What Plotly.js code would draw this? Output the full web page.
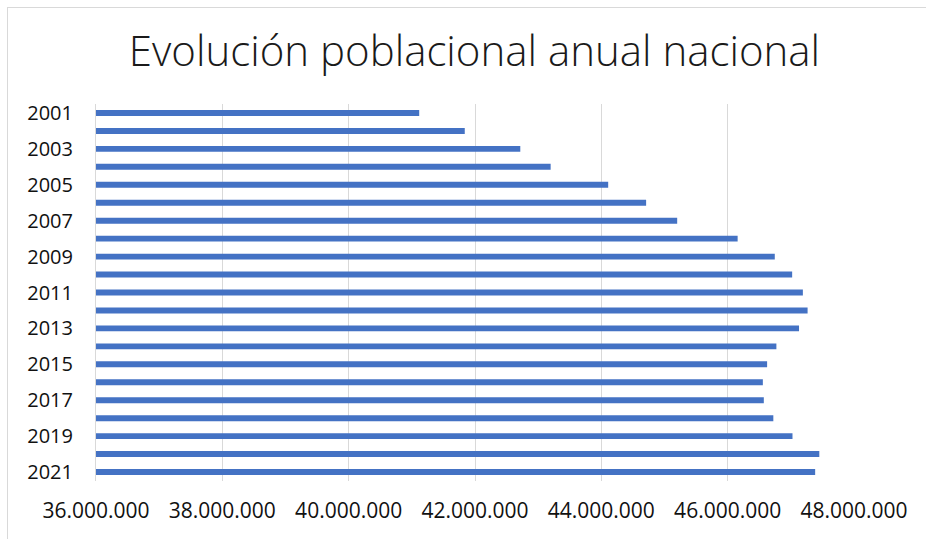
<!DOCTYPE html>
<html>
<head>
<meta charset="utf-8">
<script src="https://cdn.plot.ly/plotly-3.0.1.min.js"></script>
<style>
html,body{margin:0;padding:0;background:#fff;overflow:hidden;}
#wrap{position:relative;width:926px;height:539px;}
#chart{position:absolute;left:0;top:0;width:926px;height:539px;}
#frame{position:absolute;left:7px;top:7px;width:1000px;height:600px;border:1px solid #d9d9d9;pointer-events:none;}
</style>
</head>
<body>
<div id="wrap"><div id="chart"></div><div id="frame"></div></div>
<script>
const years = [2001,2002,2003,2004,2005,2006,2007,2008,2009,2010,2011,2012,2013,2014,2015,2016,2017,2018,2019,2020,2021];
const population = [41116842,41837894,42717064,43197684,44108530,44708964,45200737,46157822,46745807,47021031,47190493,47265321,47129783,46771341,46624382,46557008,46572132,46722980,47026208,47450795,47385107];
const yTickYears = [2001,2003,2005,2007,2009,2011,2013,2015,2017,2019,2021];
const xTicks = [36000000,38000000,40000000,42000000,44000000,46000000,48000000];
const titleText = "Evolución poblacional anual nacional";

Plotly.newPlot('chart', [{
  type: 'bar',
  orientation: 'h',
  x: population,
  y: years,
  marker: {color: '#4472C4'},
  hoverinfo: 'none'
}], {
  width: 926, height: 539,
  separators: ',.',
  margin: {l: 96, r: 72, t: 104, b: 58},
  paper_bgcolor: 'rgba(0,0,0,0)',
  plot_bgcolor: '#fff',
  bargap: 0.67,
  showlegend: false,
  title: {
    text: titleText,
    font: {family: 'Open Sans', size: 42, color: '#1a1a1a', weight: 300},
    x: 0.5124, xanchor: 'center',
    y: 0.905, yanchor: 'middle', yref: 'container'
  },
  xaxis: {
    range: [36000000, 48000000],
    tickvals: xTicks,
    tickformat: ',d',
    showgrid: true, gridcolor: '#d9d9d9', gridwidth: 1,
    zeroline: false, showline: false, ticks: '',
    ticklabelstandoff: 15,
    tickfont: {family: 'Open Sans', size: 21, color: '#111'}
  },
  yaxis: {
    range: [2021.5, 2000.5],
    tickvals: yTickYears,
    showgrid: false, zeroline: false,
    showline: true, linecolor: '#d9d9d9', linewidth: 1,
    ticks: '', ticklabelstandoff: 18,
    tickfont: {family: 'Open Sans', size: 20, color: '#111'}
  }
}, {staticPlot: true, displayModeBar: false});
</script>
</body>
</html>
